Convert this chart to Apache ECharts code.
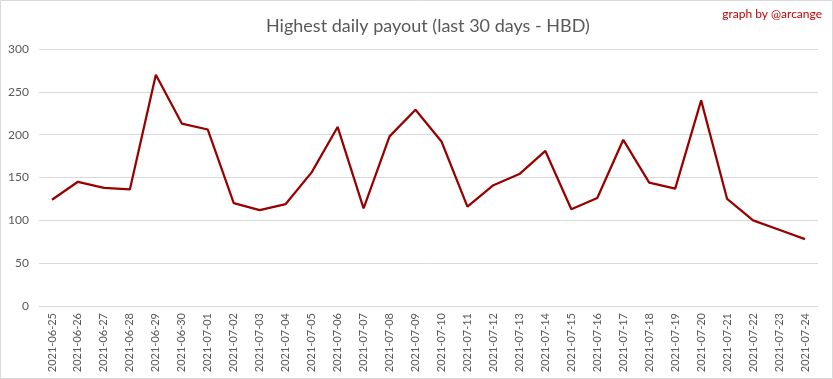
<!DOCTYPE html>
<html>
<head>
<meta charset="utf-8">
<script src="https://cdn.jsdelivr.net/npm/echarts@6/dist/echarts.min.js"></script>
<style>
html,body{margin:0;padding:0;background:#fff;}
#chart{width:833px;height:379px;}
</style>
</head>
<body>
<div id="chart"></div>
<script>
const categories = ["2021-06-25","2021-06-26","2021-06-27","2021-06-28","2021-06-29","2021-06-30","2021-07-01","2021-07-02","2021-07-03","2021-07-04","2021-07-05","2021-07-06","2021-07-07","2021-07-08","2021-07-09","2021-07-10","2021-07-11","2021-07-12","2021-07-13","2021-07-14","2021-07-15","2021-07-16","2021-07-17","2021-07-18","2021-07-19","2021-07-20","2021-07-21","2021-07-22","2021-07-23","2021-07-24"];
const payout = [124,145,138,136,270,213,206,120,112,119,156,209,114,198,229,192,116,141,154,181,113,126,194,144,137,240,125,100,89,78];
const titleText = "Highest daily payout (last 30 days - HBD)";
const creditText = "graph by @arcange";

const chart = echarts.init(document.getElementById('chart'), null, {renderer:'canvas'});
chart.setOption({
  backgroundColor:'#fff',
  animation:false,
  title:{
    text:titleText,
    left:261, top:12,
    textStyle:{fontFamily:'Lato', fontSize:18, fontWeight:'normal', color:'#595959'}
  },
  graphic:[
    {type:'rect', shape:{x:0.5,y:0.5,width:832,height:378}, style:{fill:'none',stroke:'#d9d9d9',lineWidth:1}, silent:true},
    {type:'text', right:11, top:8, style:{text:creditText, fontFamily:'Lato', fontSize:12, fill:'#c00000'}}
  ],
  grid:{left:39, right:15, top:49, bottom:73, containLabel:false},
  xAxis:{
    type:'category', data:categories, boundaryGap:true,
    axisLine:{show:true, lineStyle:{color:'#d9d9d9'}},
    axisTick:{show:false},
    axisLabel:{rotate:90, interval:0, fontFamily:'Lato', fontSize:11, color:'#595959', margin:7}
  },
  yAxis:{
    type:'value', min:0, max:300, interval:50,
    axisLine:{show:false}, axisTick:{show:false},
    splitLine:{lineStyle:{color:'#d9d9d9'}},
    axisLabel:{fontFamily:'Lato', fontSize:12, color:'#595959', margin:10}
  },
  series:[{
    type:'line', data:payout, symbol:'none',
    lineStyle:{color:'#990000', width:2.25}
  }]
});
</script>
</body>
</html>
